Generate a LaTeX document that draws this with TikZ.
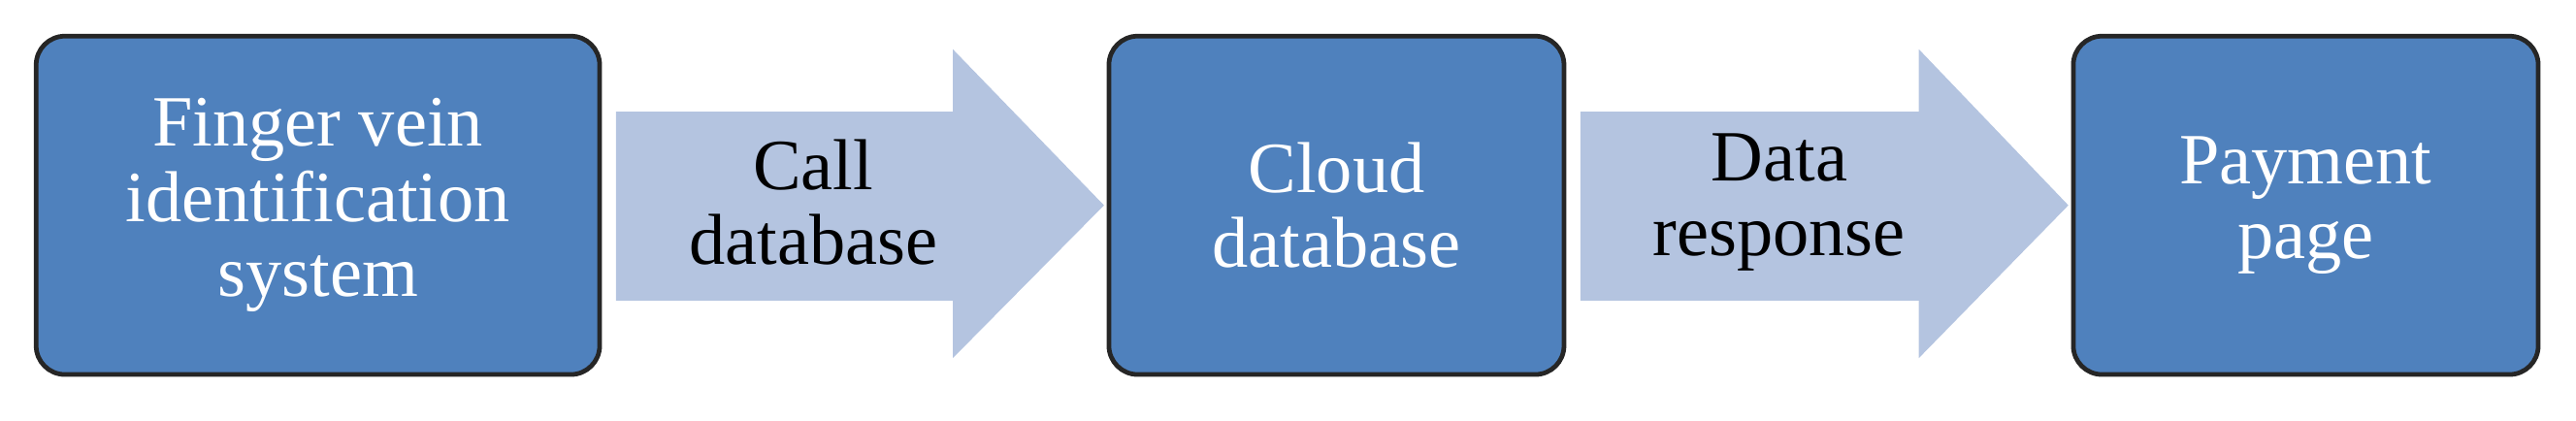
\documentclass[tikz,border=0pt]{standalone}
\usepackage{fontspec}
\setmainfont{Liberation Serif}
\begin{document}
\begin{tikzpicture}[x=0.02cm,y=-0.02cm,
  box/.style={draw=black!85,line width=1.6pt,rounded corners=0.35cm,fill={rgb,255:red,79;green,129;blue,189},text=white,align=center,font=\fontsize{25}{26}\selectfont,inner sep=0pt},
  lbl/.style={align=center,font=\fontsize{25}{26}\selectfont,text=black},
  arr/.style={fill={rgb,255:red,180;green,196;blue,224},draw=none}]
\useasboundingbox (0,0) rectangle (1568,256);
\node[box,minimum width=343*0.02cm,minimum height=206*0.02cm] (a) at (193.5,125) {Finger vein\\identification\\system};
\node[box,minimum width=277*0.02cm,minimum height=206*0.02cm] (b) at (813.5,125) {Cloud\\database};
\node[box,minimum width=283*0.02cm,minimum height=206*0.02cm] (c) at (1403.5,125) {Payment\\page};
\fill[arr] (375,68) -- (580,68) -- (580,30) -- (672,125) -- (580,218) -- (580,183) -- (375,183) -- cycle;
\fill[arr] (962,68) -- (1168,68) -- (1168,30) -- (1259,125) -- (1168,218) -- (1168,183) -- (962,183) -- cycle;
\node[lbl] (l1) at (495,123) {Call\\database};
\node[lbl] (l2) at (1083,123) {Data\\response};
\end{tikzpicture}
\end{document}
